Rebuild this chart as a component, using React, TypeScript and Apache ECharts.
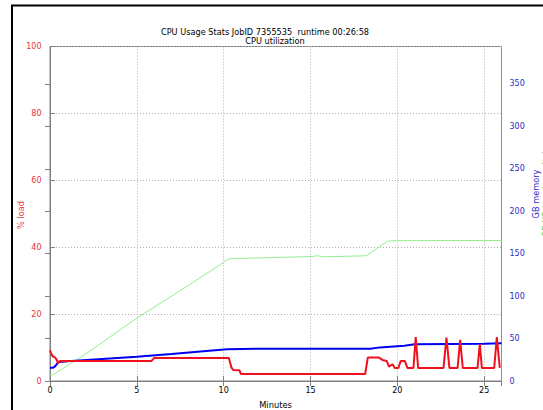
import React, { useEffect, useRef } from "react";
import * as echarts from "echarts";

const titleLine1 = "CPU Usage Stats JobID 7355535  runtime 00:26:58";
const titleLine2 = "CPU utilization";
const xAxisName = "Minutes";
const leftAxisName = "% load";
const rightAxisName = "GB memory";
const rightAxisName2 = "GB I/O (read + write)";

const xTicks = { min: 0, max: 26, interval: 5 };
const leftTicks = { min: 0, max: 100, interval: 20 };
const rightTicks = { min: 0, max: 394, interval: 50 };

// CPU load (%), left axis
const cpuTimes = [0, 0.05, 0.15, 0.3, 0.4, 0.45, 0.55, 0.65, 5.85, 6.0, 10.3, 10.45, 10.55, 10.9, 11.0, 18.15, 18.3, 18.95, 19.14, 19.39, 19.52, 19.73, 19.85, 20.06, 20.2, 20.43, 20.58, 20.93, 21.06, 21.2, 22.66, 22.83, 23.0, 23.47, 23.62, 23.77, 24.62, 24.75, 24.87, 25.58, 25.73, 25.9];
const cpuLoad = [9.2, 8.5, 7.4, 7.0, 6.2, 5.3, 5.9, 6.0, 6.0, 6.9, 6.9, 4.0, 3.3, 3.2, 2.1, 2.1, 7.0, 7.0, 6.3, 6.0, 4.3, 5.0, 3.9, 3.9, 6.0, 6.0, 3.9, 3.9, 13.1, 3.9, 3.9, 13.0, 3.9, 3.9, 12.3, 3.9, 3.9, 11.0, 3.9, 3.9, 13.1, 3.9];

// Memory (GB), right axis
const memTimes = [0, 0.18, 0.3, 0.5, 1.0, 3.0, 5.0, 7.0, 9.0, 10.2, 12.0, 18.45, 19.0, 20.4, 21.0, 23.0, 25.0, 26.0];
const memGB = [15.5, 15.5, 17.5, 22.5, 23.3, 26.0, 28.7, 31.8, 35.3, 37.4, 38.0, 38.0, 39.6, 41.6, 43.2, 43.5, 43.8, 44.5];

// I/O (GB), right axis
const ioTimes = [0, 0.15, 0.3, 2.0, 5.0, 8.0, 10.3, 10.5, 12.0, 15.0, 15.4, 15.8, 18.2, 19.45, 20.0, 26.0];
const ioGB = [7.5, 7.5, 9.0, 31.0, 74.0, 113.0, 143.8, 144.3, 145.0, 146.5, 147.5, 146.3, 147.5, 164.8, 165.3, 165.5];

const pairs = (xs: number[], ys: number[]) => xs.map((x, i) => [x, ys[i]]);

const FONT = "DejaVu Sans";
const RED_TEXT = "#e8323c";
const BLUE_TEXT = "#2c2cc8";
const AXIS_GRAY = "#808080";
const GRID_GRAY = "#b0b0b0";

export default function App() {
  const ref = useRef<HTMLDivElement>(null);
  useEffect(() => {
    document.body.style.margin = "0";
    const chart = echarts.init(ref.current!, undefined, { renderer: "svg" });
    const tickStyle = { inside: true, length: 5, lineStyle: { color: AXIS_GRAY } };
    chart.setOption({
      animation: false,
      textStyle: { fontFamily: FONT },
      grid: {
        left: 50,
        right: 41.5,
        top: 46.5,
        bottom: 29,
        show: true,
        borderColor: AXIS_GRAY,
        borderWidth: 1,
        backgroundColor: "transparent",
      },
      xAxis: [
        {
          type: "value",
          position: "bottom",
          ...xTicks,
          axisLine: { show: true, lineStyle: { color: AXIS_GRAY } },
          axisTick: tickStyle,
          axisLabel: { color: "#000", fontSize: 8, fontFamily: FONT, margin: 5, showMaxLabel: false },
          splitLine: { show: true, lineStyle: { color: GRID_GRAY, type: [1, 2], width: 1 } },
        },
        {
          type: "value",
          position: "top",
          ...xTicks,
          axisLine: { show: true, lineStyle: { color: AXIS_GRAY } },
          axisTick: tickStyle,
          axisLabel: { show: false },
          splitLine: { show: false },
        },
      ],
      yAxis: [
        {
          type: "value",
          position: "left",
          ...leftTicks,
          axisLine: { show: true, lineStyle: { color: AXIS_GRAY } },
          axisTick: tickStyle,
          axisLabel: { color: RED_TEXT, fontSize: 8, fontFamily: FONT, margin: 8.5 },
          splitLine: { show: true, lineStyle: { color: GRID_GRAY, type: [1, 2], width: 1 } },
        },
        {
          type: "value",
          position: "right",
          ...rightTicks,
          axisLine: { show: true, lineStyle: { color: AXIS_GRAY } },
          axisTick: tickStyle,
          axisLabel: { color: BLUE_TEXT, fontSize: 8, fontFamily: FONT, margin: 8, showMaxLabel: false },
          splitLine: { show: false },
        },
      ],
      series: [
        {
          name: "io",
          type: "line",
          xAxisIndex: 0,
          yAxisIndex: 1,
          data: pairs(ioTimes, ioGB),
          symbol: "none",
          lineStyle: { color: "#90ee90", width: 1 },
          z: 2,
        },
        {
          name: "memory",
          type: "line",
          xAxisIndex: 0,
          yAxisIndex: 1,
          data: pairs(memTimes, memGB),
          symbol: "none",
          lineStyle: { color: "#0000f0", width: 2 },
          z: 3,
        },
        {
          name: "cpu",
          type: "line",
          xAxisIndex: 0,
          yAxisIndex: 0,
          data: pairs(cpuTimes, cpuLoad),
          symbol: "none",
          lineStyle: { color: "#f0101e", width: 2 },
          z: 4,
        },
      ],
      graphic: [
        {
          type: "rect",
          shape: { x: 12, y: 5.5, width: 700, height: 700 },
          style: { fill: "none", stroke: "#000", lineWidth: 2 },
          silent: true,
        },
        {
          type: "text",
          x: 265,
          y: 31.5,
          style: { text: titleLine1, fill: "#000", font: `8.2px '${FONT}'`, align: "center", verticalAlign: "middle" },
        },
        {
          type: "text",
          x: 275,
          y: 40.7,
          style: { text: titleLine2, fill: "#000", font: `8.2px '${FONT}'`, align: "center", verticalAlign: "middle" },
        },
        {
          type: "text",
          x: 275.5,
          y: 405,
          style: { text: xAxisName, fill: "#000", font: `8.3px '${FONT}'`, align: "center", verticalAlign: "middle" },
        },
        {
          type: "text",
          x: 21,
          y: 215,
          rotation: Math.PI / 2,
          style: { text: leftAxisName, fill: RED_TEXT, font: `8.2px '${FONT}'`, align: "center", verticalAlign: "middle" },
        },
        {
          type: "text",
          x: 536,
          y: 194,
          rotation: Math.PI / 2,
          style: { text: rightAxisName, fill: BLUE_TEXT, font: `8.2px '${FONT}'`, align: "center", verticalAlign: "middle" },
        },
        {
          type: "text",
          x: 545.5,
          y: 194,
          rotation: Math.PI / 2,
          style: { text: rightAxisName2, fill: "#40c040", font: `8.2px '${FONT}'`, align: "center", verticalAlign: "middle" },
        },
      ],
    });
    return () => chart.dispose();
  }, []);
  return <div ref={ref} style={{ position: "absolute", left: 0, top: 0, width: 543, height: 410 }} />;
}
